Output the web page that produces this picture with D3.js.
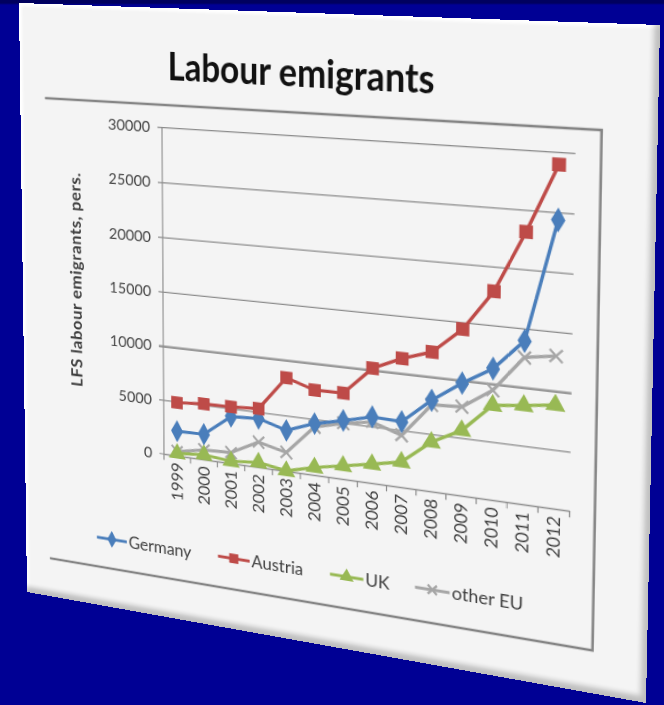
<!DOCTYPE html>
<html><head><meta charset="utf-8">
<script src="https://cdn.jsdelivr.net/npm/d3@7"></script>
<style>
html,body{margin:0;padding:0;width:664px;height:705px;overflow:hidden;background:#000094;}
#bg{position:absolute;left:0;top:0;width:664px;height:705px;background:linear-gradient(#00005e 0px,#00005e 3px,#000094 5px,#000094 100%);}
#card{position:absolute;left:0;top:0;transform-origin:0 0;background:#f4f4f4;
 box-shadow: inset -5px -6px 5px rgba(0,0,0,0.22), inset 3px 3px 3px rgba(255,255,255,1);}
svg text{font-family:Lato,"Open Sans",sans-serif;}
</style></head><body>
<div id="bg"></div>
<div id="card"></div>
<script>
// ---- data ----
const years = ["1999","2000","2001","2002","2003","2004","2005","2006","2007","2008","2009","2010","2011","2012"];
const germany = [2300, 2350, 4300, 4450, 3700, 4650, 5250, 5900, 5800, 8000, 9800, 11350, 14000, 24400];
const austria = [4950, 5150, 5200, 5350, 8450, 7650, 7700, 10200, 11350, 12200, 14450, 17950, 23200, 29000];
const uk      = [230, 450, 200, 450, 30, 700, 1200, 1700, 2250, 4350, 5700, 8200, 8500, 8850];
const otherEU = [400, 900, 1000, 2300, 1700, 4350, 5000, 5450, 4600, 7600, 7750, 9500, 12600, 13000];
const seriesNames = ["Germany","Austria","UK","other EU"];
const seriesColors = ["#4a7ebb","#be4b48","#98b954","#a6a6a6"];
const seriesMarkers = ["diamond","square","triangle","x"];
const yTicks = [0,5000,10000,15000,20000,25000,30000];
const titleText = "Labour emigrants";
const yTitleText = "LFS labour emigrants, pers.";

(function(){
// ---- perspective (card corners in the picture) ----
const W = 640, H = 620;
const quad = [[19,3],[660,25],[646,703],[27,592]];
function homography(q){
  const [x0,y0]=q[0],[x1,y1]=q[1],[x2,y2]=q[2],[x3,y3]=q[3];
  const dx1=x1-x2, dx2=x3-x2, dx3=x0-x1+x2-x3;
  const dy1=y1-y2, dy2=y3-y2, dy3=y0-y1+y2-y3;
  const den = dx1*dy2-dx2*dy1;
  const g=(dx3*dy2-dx2*dy3)/den, h=(dx1*dy3-dx3*dy1)/den;
  const a=x1-x0+g*x1, b=x3-x0+h*x3, c=x0;
  const d=y1-y0+g*y1, e=y3-y0+h*y3, f=y0;
  return [a/W,b/H,c, d/W,e/H,f, g/W,h/H,1];
}
const M = homography(quad);
function inv3(m){
  const [a,b,c,d,e,f,g,h,i]=m;
  const A=e*i-f*h, B=-(d*i-f*g), C=d*h-e*g;
  const det=a*A+b*B+c*C;
  return [A/det, -(b*i-c*h)/det, (b*f-c*e)/det,
          B/det, (a*i-c*g)/det, -(a*f-c*d)/det,
          C/det, -(a*h-b*g)/det, (a*e-b*d)/det];
}
const Mi = inv3(M);
const P = (x,y)=>{const w=Mi[6]*x+Mi[7]*y+Mi[8];return [(Mi[0]*x+Mi[1]*y+Mi[2])/w,(Mi[3]*x+Mi[4]*y+Mi[5])/w];};

const card = d3.select("#card").style("width",W+"px").style("height",H+"px")
  .style("transform",`matrix3d(${M[0]},${M[3]},0,${M[6]},${M[1]},${M[4]},0,${M[7]},0,0,1,0,${M[2]},${M[5]},0,1)`);
const svg = card.append("svg").attr("width",W).attr("height",H).style("display","block");

// ---- layout (flat) ----
const TL=P(163,128), TR=P(575,153), BR=P(570,512), BL=P(163,453);
const pL=(TL[0]+BL[0])/2, pR=(TR[0]+BR[0])/2, pT=(TL[1]+TR[1])/2, pB=(BL[1]+BR[1])/2;

// inner frame
const fTL=P(45,98), fTR=P(601,130), fBR=P(593,652), fBL=P(50,557);
const fTop=(fTL[1]+fTR[1])/2, fRight=(fTR[0]+fBR[0])/2, fBottom=(fBL[1]+fBR[1])/2;
svg.append("path").attr("d",`M${fTL[0]},${fTop}H${fRight}V${fBottom}H${fBL[0]}`)
  .attr("fill","none").attr("stroke","#858585").attr("stroke-width",2.4);

// title
const tp=P(297,87);
svg.append("text").attr("x",tp[0]).attr("y",tp[1]).attr("text-anchor","middle")
  .attr("font-size",39).attr("font-weight","bold").attr("fill","#111")
  .attr("textLength",271).attr("lengthAdjust","spacingAndGlyphs").text(titleText);

// scales
const x = d3.scaleBand().domain(years).range([pL,pR]);
const y = d3.scaleLinear().domain([0,30000]).range([pB,pT]);

// gridlines
svg.append("g").selectAll("line").data(yTicks).join("line")
  .attr("x1",pL-5).attr("x2",pR).attr("y1",d=>y(d)).attr("y2",d=>y(d))
  .attr("stroke",d=>d===10000?"#9a9a9a":"#8c8c8c").attr("stroke-width",d=>d===10000?2.6:1.2);
// y labels
svg.append("g").selectAll("text").data(yTicks).join("text")
  .attr("x",pL-13).attr("y",d=>y(d)).attr("dy","0.35em").attr("text-anchor","end")
  .attr("font-size",16).attr("fill","#454545").text(d=>d);
// y axis line
svg.append("line").attr("x1",pL).attr("x2",pL).attr("y1",pT).attr("y2",pB)
  .attr("stroke","#8c8c8c").attr("stroke-width",1.2);
// x axis
const xa = svg.append("g").attr("transform",`translate(0,${pB})`)
  .call(d3.axisBottom(x).tickSize(0).tickPadding(0));
xa.select(".domain").attr("stroke","#8c8c8c").attr("stroke-width",1.2);
xa.selectAll(".tick text").remove();
xa.append("g").selectAll("line").data(years.concat(["end"])).join("line")
  .attr("x1",(d,i)=>pL+i*x.step()).attr("x2",(d,i)=>pL+i*x.step())
  .attr("y1",0).attr("y2",6).attr("stroke","#8c8c8c").attr("stroke-width",1.2);
svg.append("g").selectAll("text").data(years).join("text")
  .attr("transform",d=>`translate(${x(d)+x.bandwidth()/2},${pB+7}) rotate(-90)`)
  .attr("dy","0.35em").attr("text-anchor","end").attr("font-size",17).attr("fill","#404040").text(d=>d);

// y title
const yt=P(76,280);
svg.append("text").attr("transform",`translate(${yt[0]},${yt[1]}) rotate(-90)`)
  .attr("text-anchor","middle").attr("dy","0.35em").attr("font-size",17.5).attr("font-weight","bold")
  .attr("letter-spacing",0.5).attr("fill","#404040").text(yTitleText);

// markers
function marker(sel,type,color,s,scale){
  if(type==="x"){
    sel.append("path").attr("d",`M${-s},${-s}L${s},${s}M${-s},${s}L${s},${-s}`)
      .attr("stroke",color).attr("stroke-width",2.2).attr("fill","none");
  } else {
    const t={diamond:d3.symbolDiamond,square:d3.symbolSquare,triangle:d3.symbolTriangle}[type];
    const size={diamond:150,square:160,triangle:150}[type]*scale;
    sel.append("path").attr("d",d3.symbol(t,size)()).attr("fill",color);
  }
}
const allSeries=[germany,austria,uk,otherEU];
const cx = d=>x(d)+x.bandwidth()/2;
const order=[3,2,0,1];
order.forEach(k=>{
  const vals=allSeries[k];
  svg.append("path").datum(vals).attr("fill","none").attr("stroke",seriesColors[k]).attr("stroke-width",3.2)
    .attr("stroke-linejoin","round")
    .attr("d",d3.line().x((d,i)=>cx(years[i])).y(d=>y(d)));
  const g=svg.append("g");
  vals.forEach((v,i)=>{
    const m=g.append("g").attr("transform",`translate(${cx(years[i])},${y(v)})`);
    marker(m,seriesMarkers[k],seriesColors[k],6,1);
  });
});

// legend
const legAnchors=[P(97,537),P(218,556),P(330,574),P(415,587)];
seriesNames.forEach((n,k)=>{
  const a=legAnchors[k];
  const g=svg.append("g").attr("transform",`translate(${a[0]},${a[1]})`);
  g.append("line").attr("x1",0).attr("x2",34).attr("stroke",seriesColors[k]).attr("stroke-width",3);
  const m=g.append("g").attr("transform","translate(17,0)");
  marker(m,seriesMarkers[k],seriesColors[k],4.5,0.6);
  g.append("text").attr("x",36).attr("dy","0.35em").attr("font-size",17.5).attr("fill","#404040").text(n);
});
})();
</script>
</body></html>
